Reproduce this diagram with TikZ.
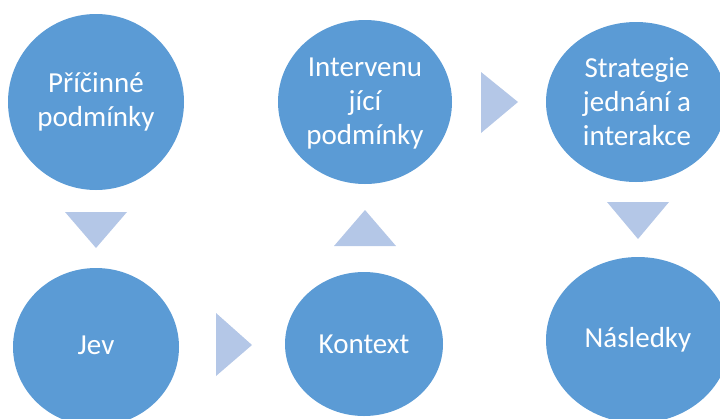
\documentclass[tikz,border=0pt]{standalone}
\usepackage{fontspec}
\setmainfont{Carlito}
\usetikzlibrary{shapes.geometric}
\definecolor{bubble}{HTML}{5B9BD5}
\definecolor{pointer}{HTML}{B4C7E7}
\tikzset{
  bubble/.style={ellipse, fill=bubble, draw=none, inner sep=0pt},
  caption/.style={text=white, align=center, inner sep=0pt,
    font=\fontsize{29}{34}\selectfont},
  pointer/.style={fill=pointer, draw=none}
}
\begin{document}
\begin{tikzpicture}[x=1pt, y=-1pt]
  \useasboundingbox (0,0) rectangle (720,418);
  \clip (0,0) rectangle (720,418);

  % stages
  \node[bubble, minimum width=176pt, minimum height=176pt] (pricinne) at (96,102) {};
  \node[bubble, minimum width=166pt, minimum height=158pt] (jev) at (96,347) {};
  \node[bubble, minimum width=158pt, minimum height=144pt] (kontext) at (364,344) {};
  \node[bubble, minimum width=174pt, minimum height=164pt] (intervenujici) at (365,102) {};
  \node[bubble, minimum width=180pt, minimum height=160pt] (strategie) at (636,102) {};
  \node[bubble, minimum width=184pt, minimum height=166pt] (nasledky) at (638,340) {};

  % stage labels
  \node[caption] (tpricinne) at (96,102) {Příčinné\\podmínky};
  \node[caption] (tjev) at (96,345) {Jev};
  \node[caption] (tkontext) at (364,344) {Kontext};
  \node[caption] (tintervenujici) at (365,104) {Intervenu\\jící\\podmínky};
  \node[caption] (tstrategie) at (637,102) {Strategie\\jednání a\\interakce};
  \node[caption] (tnasledky) at (638,340) {Následky};

  % flow pointers between the stages
  \fill[pointer] (65,212) -- (127,212) -- (96,248) -- cycle;
  \fill[pointer] (216,313) -- (216,376) -- (252,345) -- cycle;
  \fill[pointer] (334,246) -- (396,246) -- (365,210) -- cycle;
  \fill[pointer] (481,72) -- (481,133) -- (518,102) -- cycle;
  \fill[pointer] (607,202) -- (669,202) -- (638,239) -- cycle;
\end{tikzpicture}
\end{document}
